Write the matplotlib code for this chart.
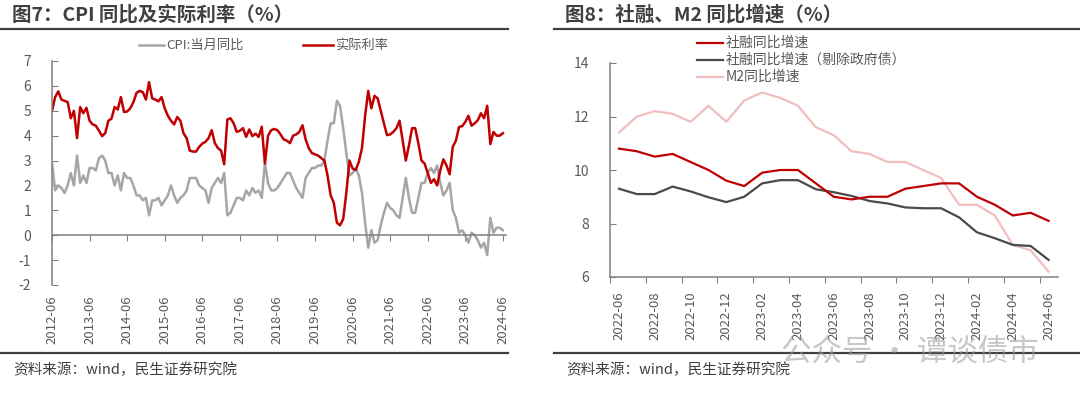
import numpy as np
import matplotlib.pyplot as plt
from matplotlib.lines import Line2D

plt.rcParams['font.family'] = ['Noto Sans CJK SC', 'DejaVu Sans']
plt.rcParams['axes.unicode_minus'] = False

# ---- 图7 data: monthly 2012-06 .. 2024-06 ----
cpi = [2.9, 1.8, 2.0, 1.9, 1.7, 2.0, 2.5,
       2.0, 3.2, 2.1, 2.4, 2.1, 2.7, 2.7, 2.6, 3.1, 3.2, 3.0, 2.5,
       2.5, 2.0, 2.4, 1.8, 2.5, 2.3, 2.3, 2.0, 1.6, 1.6, 1.4, 1.5,
       0.8, 1.4, 1.4, 1.5, 1.2, 1.4, 1.6, 2.0, 1.6, 1.3, 1.5, 1.6,
       1.8, 2.3, 2.3, 2.3, 2.0, 1.9, 1.8, 1.3, 1.9, 2.1, 2.3, 2.1,
       2.5, 0.8, 0.9, 1.2, 1.5, 1.5, 1.4, 1.8, 1.6, 1.9, 1.7, 1.8,
       1.5, 2.9, 2.1, 1.8, 1.8, 1.9, 2.1, 2.3, 2.5, 2.5, 2.2, 1.9,
       1.7, 1.5, 2.3, 2.5, 2.7, 2.7, 2.8, 2.8, 3.0, 3.8, 4.5, 4.5,
       5.4, 5.2, 4.3, 3.3, 2.4, 2.5, 2.7, 2.4, 1.7, 0.5, -0.5, 0.2,
       -0.3, -0.2, 0.4, 0.9, 1.3, 1.1, 1.0, 0.8, 0.7, 1.5, 2.3, 1.5,
       0.9, 0.9, 1.5, 2.1, 2.1, 2.5, 2.7, 2.5, 2.8, 2.1, 1.6, 1.8,
       2.1, 1.0, 0.7, 0.1, 0.2, 0.0, -0.3, 0.1, 0.0, -0.2, -0.5, -0.3,
       -0.8, 0.7, 0.1, 0.3, 0.3, 0.2]

real_rate = [5.0, 5.55, 5.78, 5.45, 5.4, 5.35, 4.7, 5.0, 3.9, 5.15,
             4.9, 5.12, 4.6, 4.45, 4.4, 4.2, 3.98, 4.1, 4.6, 4.68,
             5.15, 5.05, 5.55, 4.95, 4.97, 5.1, 5.35, 5.72, 5.8, 5.75,
             5.45, 6.15, 5.5, 5.45, 5.38, 5.55, 5.1, 4.8, 4.6, 4.45,
             4.75, 4.6, 4.1, 3.9, 3.4, 3.36, 3.36, 3.55, 3.68, 3.75,
             3.9, 4.22, 3.7, 3.5, 3.4, 2.85, 4.65, 4.7, 4.5, 4.15,
             4.2, 4.3, 3.95, 4.25, 3.98, 4.08, 3.95, 4.36, 2.88, 4.0,
             4.22, 4.27, 4.22, 4.05, 3.85, 3.8, 3.7, 4.0, 4.05, 4.15,
             4.42, 3.85, 3.5, 3.3, 3.25, 3.2, 3.1, 3.0, 2.4, 1.6,
             1.3, 0.5, 0.4, 0.65, 1.7, 3.0, 2.68, 2.62, 2.95, 3.5,
             4.8, 5.8, 5.1, 5.6, 5.5, 5.0, 4.5, 4.02, 4.05, 4.15,
             4.3, 4.6, 3.8, 3.0, 3.6, 4.3, 4.3, 3.7, 3.0, 2.88,
             2.5, 2.1, 2.25, 2.0, 2.6, 3.05, 2.8, 2.45, 3.55, 3.8,
             4.35, 4.38, 4.55, 4.8, 4.4, 4.5, 4.62, 4.9, 4.7, 5.2,
             3.66, 4.15, 4.0, 4.0, 4.1]

left_ticklabels = ['%d-06' % y for y in range(2012, 2025)]

# ---- 图8 data: monthly 2022-06 .. 2024-06 ----
months = ['2022-06', '2022-07', '2022-08', '2022-09', '2022-10', '2022-11', '2022-12',
          '2023-01', '2023-02', '2023-03', '2023-04', '2023-05', '2023-06', '2023-07',
          '2023-08', '2023-09', '2023-10', '2023-11', '2023-12', '2024-01', '2024-02',
          '2024-03', '2024-04', '2024-05', '2024-06']
tsf = [10.8, 10.7, 10.5, 10.6, 10.3, 10.0, 9.6, 9.4, 9.9, 10.0, 10.0, 9.5, 9.0,
       8.9, 9.0, 9.0, 9.3, 9.4, 9.5, 9.5, 9.0, 8.7, 8.3, 8.4, 8.1]
tsf_ex_gov = [9.3, 9.1, 9.1, 9.38, 9.2, 8.98, 8.8, 9.0, 9.5, 9.62, 9.62, 9.28, 9.17,
              9.03, 8.84, 8.75, 8.6, 8.57, 8.57, 8.23, 7.67, 7.45, 7.2, 7.16, 6.64]
m2 = [11.4, 12.0, 12.2, 12.1, 11.8, 12.4, 11.8, 12.6, 12.9, 12.7, 12.4, 11.6, 11.3,
      10.7, 10.6, 10.3, 10.3, 10.0, 9.7, 8.7, 8.7, 8.3, 7.2, 7.0, 6.2]

red = '#C00000'
gray = '#A6A6A6'
dark = '#4A4A4A'
pink = '#F0BEBE'
axis_c = '#808080'
text_c = '#595959'

fig = plt.figure(figsize=(10.8, 3.97), dpi=100)
W, H = 1080, 397


def fx(px):
    return px / W


def fy(py):
    return 1 - py / H


# headers, rules, sources
fig.text(fx(12), fy(15), '图7：CPI 同比及实际利率（%）', fontsize=14, fontweight='bold',
         color='#404040', va='center', ha='left')
fig.text(fx(565), fy(15), '图8：社融、M2 同比增速（%）', fontsize=14, fontweight='bold',
         color='#404040', va='center', ha='left')
for x0, x1 in [(0, 508), (554, 1080)]:
    fig.add_artist(Line2D([fx(x0), fx(x1)], [fy(29), fy(29)], color='#404040', lw=1.6))
    fig.add_artist(Line2D([fx(x0), fx(x1)], [fy(352.5), fy(352.5)], color='#404040', lw=1.6))
fig.text(fx(13), fy(370), '资料来源：wind，民生证券研究院', fontsize=10.5, color='#404040',
         va='center', ha='left')
fig.text(fx(566), fy(370), '资料来源：wind，民生证券研究院', fontsize=10.5, color='#404040',
         va='center', ha='left')
fig.text(fx(910), fy(352), '公众号 · 谭谈债市', fontsize=22, color='#9A9A9A', alpha=0.55,
         va='center', ha='center')

# ---------------- left chart ----------------
ax1 = fig.add_axes([fx(52), fy(285), fx(454), (285 - 61) / H])
x1 = np.arange(len(cpi))
ax1.plot(x1, cpi, color=gray, lw=1.8)
ax1.plot(x1, real_rate, color=red, lw=1.8)
ax1.set_xlim(0, 145)
ax1.set_ylim(-2, 7)
ax1.set_yticks(range(-2, 8))
ax1.spines['top'].set_visible(False)
ax1.spines['right'].set_visible(False)
ax1.spines['left'].set_color(axis_c)
ax1.spines['left'].set_linewidth(1.1)
ax1.spines['bottom'].set_position(('data', 0))
ax1.spines['bottom'].set_color(axis_c)
ax1.spines['bottom'].set_linewidth(1.1)
ax1.set_xticks(np.arange(0, 145, 12))
ax1.tick_params(axis='x', direction='out', length=4, color=axis_c, labelbottom=False)
ax1.tick_params(axis='y', direction='in', length=4, color=axis_c, labelsize=10,
                labelcolor=text_c, pad=15)
for i, lab in enumerate(left_ticklabels):
    ax1.text(i * 12, -0.045, lab, transform=ax1.get_xaxis_transform(), rotation=90,
             ha='center', va='top', fontsize=9.5, color=text_c)

# legend (left)
fig.add_artist(Line2D([fx(139), fx(164)], [fy(45), fy(45)], color=gray, lw=1.8))
fig.text(fx(166), fy(45), 'CPI:当月同比', fontsize=9.5, color=text_c, va='center')
fig.add_artist(Line2D([fx(303), fx(333)], [fy(45), fy(45)], color=red, lw=1.8))
fig.text(fx(335), fy(45), '实际利率', fontsize=9.5, color=text_c, va='center')

# ---------------- right chart ----------------
ax2 = fig.add_axes([fx(610), fy(277), fx(447.5), (277 - 63) / H])
x2 = np.arange(len(months))
ax2.plot(x2, m2, color=pink, lw=1.6)
ax2.plot(x2, tsf_ex_gov, color=dark, lw=1.6)
ax2.plot(x2, tsf, color=red, lw=1.6)
ax2.set_xlim(-0.5, len(months) - 0.5)
ax2.set_ylim(6, 14)
ax2.set_yticks(range(6, 15, 2))
ax2.spines['top'].set_visible(False)
ax2.spines['right'].set_visible(False)
for s in ['left', 'bottom']:
    ax2.spines[s].set_color(axis_c)
    ax2.spines[s].set_linewidth(1.1)
ax2.set_xticks(np.arange(-0.5, len(months) - 1, 2))
ax2.set_xticklabels([])
ax2.set_xticks(x2[::2], minor=True)
ax2.set_xticklabels(months[::2], minor=True, rotation=90, fontsize=9.5, color=text_c)
ax2.tick_params(axis='x', which='major', direction='out', length=4, color=axis_c)
ax2.tick_params(axis='x', which='minor', length=0, pad=10)
ax2.tick_params(axis='y', direction='in', length=4, color=axis_c, labelsize=10,
                labelcolor=text_c, pad=15)

# legend (right)
for yy, col, lab in [(42.5, red, '社融同比增速'), (60, dark, '社融同比增速（剔除政府债）'),
                     (77, pink, 'M2同比增速')]:
    fig.add_artist(Line2D([fx(697), fx(723)], [fy(yy), fy(yy)], color=col, lw=1.6))
    fig.text(fx(726), fy(yy), lab, fontsize=10, color=text_c, va='center')

fig.savefig('out.png', dpi=100)
